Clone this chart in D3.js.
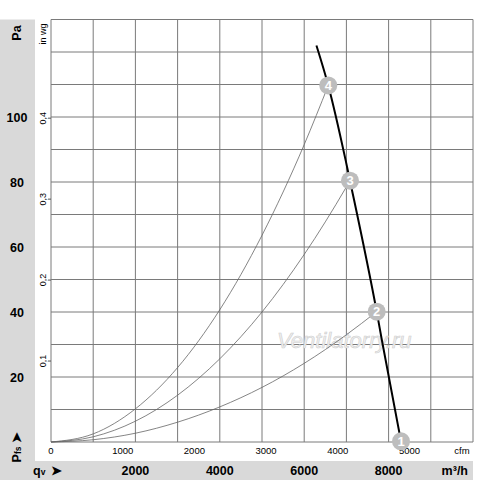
<!DOCTYPE html>
<html>
<head>
<meta charset="utf-8">
<script src="https://cdn.jsdelivr.net/npm/d3@7.9.0/dist/d3.min.js"></script>
<style>
  body { margin: 0; background: #fff; }
  svg { display: block; font-family: "Liberation Sans", Arial, sans-serif; }
</style>
</head>
<body>
<svg id="chart" width="500" height="483"></svg>
<script>
// axis ticks
const paTicks = [20, 40, 60, 80, 100];
const m3hTicks = [2000, 4000, 6000, 8000];
const cfmTicks = [0, 1000, 2000, 3000, 4000, 5000];
const inwgTicks = [0.1, 0.2, 0.3, 0.4];

// fan curve (m³/h, Pa)
const fanQ = [6290, 6570, 6980, 7085, 7718, 7840, 8294];
const fanP = [122, 109.7, 86.8, 80.4, 40.1, 31.4, 0.2];

// system curves
const sys2 = [[0, 0], [1000, 0.7], [2000, 2.7], [3000, 6.1], [4000, 10.8], [5000, 16.8], [6000, 24.2], [7000, 33.0], [7718, 40.1]];
const sys3 = [[0, 0], [1000, 1.6], [2000, 6.4], [3000, 14.4], [4000, 25.6], [5000, 40.0], [6000, 57.7], [7000, 78.5], [7085, 80.4]];
const sys4 = [[0, 0], [1000, 2.5], [2000, 10.2], [3000, 22.9], [4000, 40.7], [5000, 63.6], [6000, 91.5], [6570, 109.7]];

// operating points
const opLabels = ['1', '2', '3', '4'];
const opQ = [8294, 7718, 7085, 6570];
const opP = [0.2, 40.1, 80.4, 109.7];

const M3H_PER_CFM = 1.699;
const PA_PER_INWG = 249.09;

const svg = d3.select('#chart');
const L = 51, R = 473, T = 19.5, B = 442;

const x = d3.scaleLinear().domain([0, 10000]).range([L, R]);
const y = d3.scaleLinear().domain([0, 130]).range([B, T]);
const xc = d3.scaleLinear().domain([0, 10000 / M3H_PER_CFM]).range([L, R]);
const yw = d3.scaleLinear().domain([0, 130 / PA_PER_INWG]).range([B, T]);

// gray panels
svg.append('rect').attr('x', 0).attr('y', T).attr('width', 35).attr('height', 480 - T).attr('fill', '#d9d9d9');
svg.append('rect').attr('x', 0).attr('y', 461).attr('width', R).attr('height', 19).attr('fill', '#d9d9d9');

// grid
const grid = svg.append('g').attr('stroke', '#7a7a7a').attr('stroke-width', 1);
grid.selectAll('line.v').data(d3.range(0, 10001, 1000)).join('line')
  .attr('x1', d => x(d)).attr('x2', d => x(d)).attr('y1', T).attr('y2', B);
grid.selectAll('line.h').data(d3.range(0, 131, 10)).join('line')
  .attr('x1', L).attr('x2', R).attr('y1', d => y(d)).attr('y2', d => y(d));

// watermark
svg.append('text').attr('x', 277).attr('y', 348)
  .attr('font-size', 22).attr('font-style', 'italic')
  .attr('fill', '#efefef').attr('stroke', '#cfcfcf').attr('stroke-width', 0.6)
  .text('Ventilatorry.ru');

// left Pa labels
svg.append('g').selectAll('text').data(paTicks).join('text')
  .attr('x', 17).attr('y', d => y(d) + 4.5)
  .attr('text-anchor', 'middle').attr('font-size', 12.5).attr('font-weight', 'bold')
  .text(d => d);

svg.append('text').attr('transform', 'translate(21,33) rotate(-90)')
  .attr('text-anchor', 'middle').attr('font-size', 12.5).attr('font-weight', 'bold').text('Pa');

const pfs = svg.append('text').attr('transform', 'translate(21,447) rotate(-90)')
  .attr('text-anchor', 'middle').attr('font-size', 12.5).attr('font-weight', 'bold');
pfs.append('tspan').text('P');
pfs.append('tspan').attr('font-size', 8.5).text('fs');
pfs.append('tspan').attr('dx', 4).text('➤');

// in wg axis
const wg = svg.append('g');
wg.selectAll('line').data(inwgTicks).join('line')
  .attr('x1', L - 3).attr('x2', L).attr('y1', d => yw(d)).attr('y2', d => yw(d))
  .attr('stroke', '#555');
wg.selectAll('text').data(inwgTicks).join('text')
  .attr('transform', d => `translate(45.5,${yw(d)}) rotate(-90)`)
  .attr('text-anchor', 'middle').attr('font-size', 9)
  .text(d => d3.format('.1f')(d).replace('.', ','));
svg.append('text').attr('transform', 'translate(46,34) rotate(-90)')
  .attr('text-anchor', 'middle').attr('font-size', 9).text('in wg');

// cfm axis
svg.append('g').selectAll('text').data(cfmTicks).join('text')
  .attr('x', d => xc(d)).attr('y', 454)
  .attr('text-anchor', 'middle').attr('font-size', 9.5)
  .text(d => d);
svg.append('text').attr('x', 462).attr('y', 454).attr('text-anchor', 'middle')
  .attr('font-size', 9.5).text('cfm');

// m³/h labels
svg.append('g').selectAll('text').data(m3hTicks).join('text')
  .attr('x', d => x(d)).attr('y', 475)
  .attr('text-anchor', 'middle').attr('font-size', 12.5).attr('font-weight', 'bold')
  .text(d => d);
svg.append('text').attr('x', 468).attr('y', 475).attr('text-anchor', 'end')
  .attr('font-size', 12.5).attr('font-weight', 'bold').text('m³/h');
const qv = svg.append('text').attr('x', 33).attr('y', 475)
  .attr('font-size', 12.5).attr('font-weight', 'bold');
qv.append('tspan').text('q');
qv.append('tspan').attr('font-size', 8.5).text('v');
qv.append('tspan').attr('dx', 6).text('➤');

// system curves
const line = d3.line().x(d => x(d[0])).y(d => y(d[1])).curve(d3.curveMonotoneX);
svg.append('g').selectAll('path').data([sys2, sys3, sys4]).join('path')
  .attr('d', line).attr('fill', 'none').attr('stroke', '#666').attr('stroke-width', 0.8);

// fan curve
const fan = fanQ.map((q, i) => [q, fanP[i]]);
svg.append('path').datum(fan).attr('d', line)
  .attr('fill', 'none').attr('stroke', '#000').attr('stroke-width', 2);

// operating points
const pts = svg.append('g').selectAll('g').data(opLabels).join('g')
  .attr('transform', (d, i) => `translate(${x(opQ[i])},${y(opP[i])})`);
pts.append('circle').attr('r', 9).attr('fill', '#bdbdbd');
pts.append('text').attr('y', 4.5).attr('text-anchor', 'middle')
  .attr('font-size', 13).attr('font-weight', 'bold').attr('fill', '#fff')
  .text(d => d);
</script>
</body>
</html>
